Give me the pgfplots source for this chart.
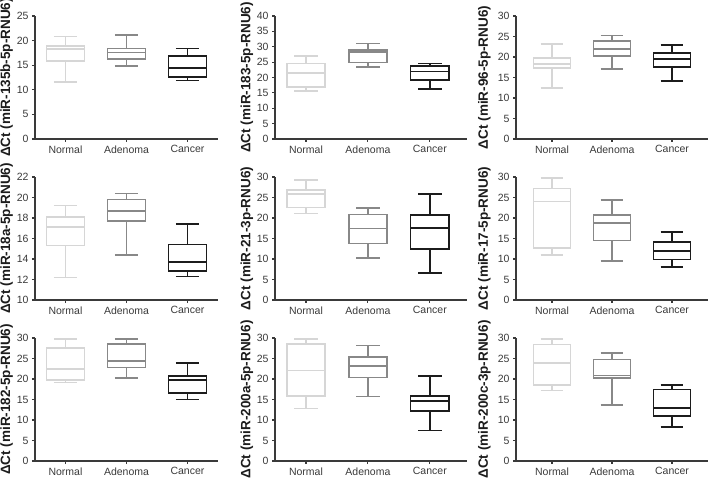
\documentclass[border=0pt]{standalone}
\usepackage{fontspec}
\setmainfont{Liberation Sans}
\usepackage{pgfplots}
\pgfplotsset{compat=1.18}
\usepgfplotslibrary{statistics}

\definecolor{cN}{HTML}{D6D6D6}
\definecolor{cA}{HTML}{888888}
\definecolor{cC}{HTML}{1C1C1C}
\definecolor{axc}{HTML}{3A3A3A}

\pgfplotsset{
  panel/.style={
    scale only axis, height=123pt,
    axis lines=left,
    axis line style={-, draw=axc, line width=1.1pt},
    xtick={0,1,2}, xticklabels={Normal,Adenoma,Cancer},
    tick align=outside, major tick length=3pt,
    tick style={draw=axc, line width=1.1pt},
    ticklabel style={font=\fontsize{10.5}{12}\selectfont, text=axc},
    ylabel style={font=\fontsize{13.5}{15}\selectfont\bfseries, text=cC, anchor=center},
    /pgf/number format/assume math mode=true,
    boxplot/draw direction=y,
    boxplot/box extend=0.62,
    boxplot/whisker extend=0.38,
    clip=false,
  },
  c1/.style={panel, width=183pt, xmin=-0.5, xmax=2.5,
    ylabel style={at={(axis description cs:-0.155,0.5)}}},
  c2/.style={panel, width=192pt, xmin=-0.5, xmax=2.6,
    ylabel style={at={(axis description cs:-0.146,0.5)}}},
  c3/.style={panel, width=192pt, xmin=-0.6, xmax=2.6,
    ylabel style={at={(axis description cs:-0.165,0.5)}}},
  bN/.style={draw=cN, line width=1.6pt, solid},
  bA/.style={draw=cA, line width=1.6pt, solid},
  bC/.style={draw=cC, line width=1.6pt, solid},
}
% #1 style, #2 position, #3 lower whisker, #4 lower quartile, #5 median, #6 upper quartile, #7 upper whisker
\newcommand{\bx}[7]{\addplot[#1, boxplot prepared={draw position=#2,
  lower whisker=#3, lower quartile=#4, median=#5,
  upper quartile=#6, upper whisker=#7}] coordinates {};}

\begin{document}
\begin{tikzpicture}
\useasboundingbox (0pt,0pt) rectangle (712pt,477pt);

% row 1
\begin{axis}[c1, at={(35pt,338pt)}, anchor=south west,
  ymin=0, ymax=25, ytick={0,5,...,25}, ylabel={ΔCt (miR-135b-5p-RNU6)}]
\bx{bN}{0}{11.6}{15.9}{18.3}{18.9}{20.8}
\bx{bA}{1}{14.8}{16.3}{17.6}{18.4}{21.1}
\bx{bC}{2}{11.9}{12.6}{14.4}{16.9}{18.4}
\end{axis}

\begin{axis}[c2, at={(275pt,338pt)}, anchor=south west,
  ymin=0, ymax=40, ytick={0,5,...,40}, ylabel={ΔCt (miR-183-5p-RNU6)}]
\bx{bN}{0}{15.6}{16.9}{21.5}{24.6}{26.9}
\bx{bA}{1}{23.5}{24.9}{28.2}{29.0}{31.1}
\bx{bC}{2}{16.2}{19.2}{21.9}{23.8}{24.6}
\end{axis}

\begin{axis}[c3, at={(516pt,338pt)}, anchor=south west,
  ymin=0, ymax=30, ytick={0,5,...,30}, ylabel={ΔCt (miR-96-5p-RNU6)}]
\bx{bN}{0}{12.5}{17.3}{18.3}{19.7}{23.2}
\bx{bA}{1}{17.0}{20.3}{22.0}{23.9}{25.2}
\bx{bC}{2}{14.2}{17.5}{19.5}{21.0}{22.9}
\end{axis}

% row 2
\begin{axis}[c1, at={(35pt,177pt)}, anchor=south west,
  ymin=10, ymax=22, ytick={10,12,...,22}, ylabel={ΔCt (miR-18a-5p-RNU6)}]
\bx{bN}{0}{12.2}{15.3}{17.1}{18.1}{19.2}
\bx{bA}{1}{14.4}{17.7}{18.7}{19.8}{20.4}
\bx{bC}{2}{12.3}{12.8}{13.7}{15.4}{17.4}
\end{axis}

\begin{axis}[c2, at={(275pt,177pt)}, anchor=south west,
  ymin=0, ymax=30, ytick={0,5,...,30}, ylabel={ΔCt (miR-21-3p-RNU6)}]
\bx{bN}{0}{21.1}{22.6}{25.9}{26.9}{29.2}
\bx{bA}{1}{10.2}{13.8}{17.4}{20.9}{22.4}
\bx{bC}{2}{6.6}{12.4}{17.6}{20.7}{25.9}
\end{axis}

\begin{axis}[c3, at={(516pt,177pt)}, anchor=south west,
  ymin=0, ymax=30, ytick={0,5,...,30}, ylabel={ΔCt (miR-17-5p-RNU6)}]
\bx{bN}{0}{11.0}{12.7}{24.0}{27.2}{29.8}
\bx{bA}{1}{9.5}{14.5}{18.8}{20.7}{24.4}
\bx{bC}{2}{8.0}{9.9}{12.0}{14.2}{16.6}
\end{axis}

% row 3
\begin{axis}[c1, at={(35pt,16pt)}, anchor=south west,
  ymin=0, ymax=30, ytick={0,5,...,30}, ylabel={ΔCt (miR-182-5p-RNU6)}]
\bx{bN}{0}{19.1}{19.7}{22.5}{27.6}{29.8}
\bx{bA}{1}{20.3}{22.8}{24.4}{28.5}{29.7}
\bx{bC}{2}{15.0}{16.6}{19.7}{20.7}{23.9}
\end{axis}

\begin{axis}[c2, at={(275pt,16pt)}, anchor=south west,
  ymin=0, ymax=30, ytick={0,5,...,30}, ylabel={ΔCt (miR-200a-5p-RNU6)}]
\bx{bN}{0}{12.8}{15.9}{22.1}{28.6}{29.8}
\bx{bA}{1}{15.7}{20.4}{23.1}{25.3}{28.2}
\bx{bC}{2}{7.4}{12.2}{14.6}{15.9}{20.8}
\end{axis}

\begin{axis}[c3, at={(516pt,16pt)}, anchor=south west,
  ymin=0, ymax=30, ytick={0,5,...,30}, ylabel={ΔCt (miR-200c-3p-RNU6)}]
\bx{bN}{0}{17.2}{18.6}{23.9}{28.4}{29.8}
\bx{bA}{1}{13.7}{20.2}{20.9}{24.8}{26.4}
\bx{bC}{2}{8.3}{11.0}{13.0}{17.4}{18.6}
\end{axis}
\end{tikzpicture}
\end{document}
